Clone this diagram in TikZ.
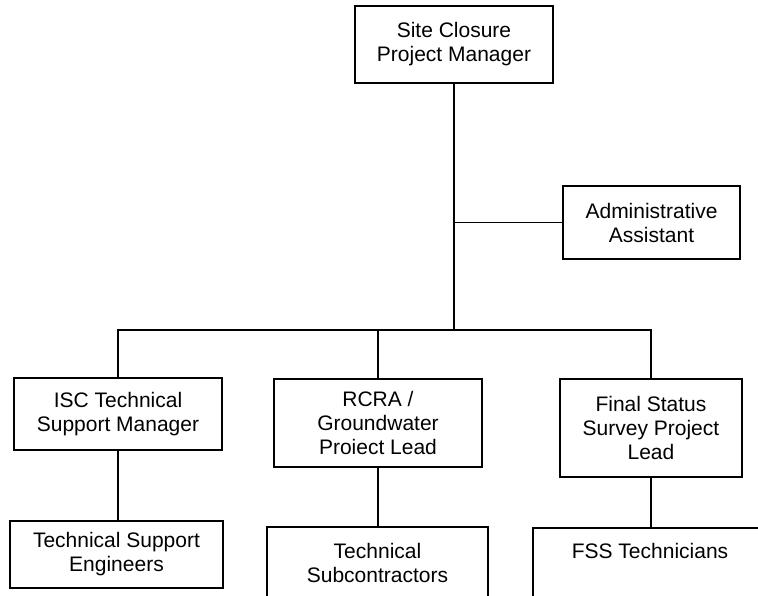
\documentclass[tikz,border=0pt]{standalone}
\usepackage{fontspec}
\setmainfont{Liberation Sans}
\begin{document}
\begin{tikzpicture}[x=1pt,y=-1pt,
  box/.style={draw, line width=1.7pt, inner sep=0pt, align=center, font=\fontsize{21}{24}\selectfont},
  conn/.style={line width=1.4pt}]
\clip (0,0) rectangle (758,596);
\fill[white] (0,0) rectangle (758,596);
\node[box, minimum width=198pt, minimum height=77pt] (pm) at (454,44.5) {Site Closure\\Project Manager};
\node[box, minimum width=177pt, minimum height=73pt] (admin) at (651.5,222.5) {Administrative\\Assistant};
\node[box, minimum width=208pt, minimum height=72pt] (isc) at (118,414) {ISC Technical\\Support Manager};
\node[box, minimum width=208pt, minimum height=88pt] (rcra) at (378,423) {RCRA /\\Groundwater\\Proiect Lead};
\node[box, minimum width=182pt, minimum height=98pt] (fsl) at (651,428) {Final Status\\Survey Project\\Lead};
\node[box, minimum width=213pt, minimum height=67pt] (tse) at (116.5,554.5) {Technical Support\\Engineers};
\node[box, minimum width=221pt, minimum height=72pt] (tsub) at (377.5,563) {Technical\\Subcontractors};
\node[box, minimum width=234pt, text height=15pt, text depth=70pt, inner ysep=16pt, anchor=north] (fsst) at (650,527) {FSS Technicians};
\coordinate (hub) at (456,330);
\draw[conn] (pm.south) -- (pm.south |- hub);
\draw[conn] (pm.south |- admin.west) -- (admin.west);
\draw[conn] (isc.north) -- (isc.north |- hub) -- (fsl.north |- hub) -- (fsl.north);
\draw[conn] (rcra.north) -- (rcra.north |- hub);
\draw[conn] (isc.south) -- (isc.south |- tse.north);
\draw[conn] (rcra.south) -- (rcra.south |- tsub.north);
\draw[conn] (fsl.south) -- (fsl.south |- fsst.north);
\end{tikzpicture}
\end{document}
